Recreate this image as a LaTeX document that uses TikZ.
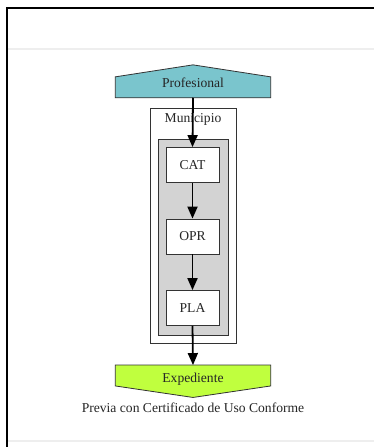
\documentclass[tikz,border=0pt]{standalone}
\usepackage{fontspec}
\setmainfont{Liberation Serif}
\usetikzlibrary{arrows.meta,calc}
\definecolor{cadetblueC}{RGB}{122,197,205}
\definecolor{olivedrabA}{RGB}{192,255,62}
\definecolor{clustergray}{RGB}{211,211,211}
\definecolor{rulegray}{RGB}{238,238,238}
\tikzset{
  lbl/.style={font=\fontsize{13.6}{16}\selectfont, text=black!85, inner sep=0pt},
  taskbox/.style={draw=black!80, line width=0.8pt, fill=white, minimum width=53pt,
    minimum height=35pt, inner sep=0pt, font=\fontsize{13.6}{16}\selectfont, text=black!85},
  frame/.style={draw=black!80, line width=0.8pt},
  flow/.style={draw=black, line width=1.8pt, -{Triangle[length=12pt,width=10pt]}},
  anchorbox/.style={minimum width=155pt, minimum height=20.5pt, inner sep=0pt,
    font=\fontsize{13.6}{16}\selectfont, text=black!85}
}
\begin{document}
\begin{tikzpicture}[x=1pt,y=-1pt]
  \useasboundingbox (0,0) rectangle (374,447);
  \fill[white] (0,0) rectangle (374,447);
  % page edges
  \draw[rulegray, line width=1.5pt] (8,49) -- (374,49);
  \draw[rulegray, line width=1.5pt] (8,441) -- (374,441);
  \draw[black, line width=2pt] (6.5,447) -- (6.5,8) -- (374,8);
  % clusters
  \draw[frame, fill=white] (150.5,108) rectangle (236,343);
  \node[lbl] (mun) at (193,119) {Municipio};
  \draw[frame, fill=clustergray] (158,139) rectangle (228,335);
  % task boxes
  \node[taskbox] (cat) at (192.5,165) {CAT};
  \node[taskbox] (opr) at (192.5,236.5) {OPR};
  \node[taskbox] (pla) at (192.5,308) {PLA};
  % source: house shape
  \node[anchorbox] (prof) at (193,87.3) {};
  \draw[frame, fill=cadetblueC] (prof.south west) -- (prof.north west)
    -- ($(prof.north)+(0,-12)$) -- (prof.north east) -- (prof.south east) -- cycle;
  \node[lbl] at ($(prof.center)+(0,-4.5)$) {Profesional};
  % sink: inverted house shape
  \node[anchorbox] (exp) at (193,375.5) {};
  \draw[frame, fill=olivedrabA] (exp.north west) -- (exp.south west)
    -- ($(exp.south)+(0,11.5)$) -- (exp.south east) -- (exp.north east) -- cycle;
  \node[lbl] at ($(exp.center)+(0,3.5)$) {Expediente};
  \node[lbl] (cap) at (193,408) {Previa con Certificado de Uso Conforme};
  % flow
  \draw[flow] (prof.south) -- (cat.north);
  \draw[flow] (cat.south) -- (opr.north);
  \draw[flow] (opr.south) -- (pla.north);
  \draw[flow] (pla.south) -- (exp.north);
\end{tikzpicture}
\end{document}
